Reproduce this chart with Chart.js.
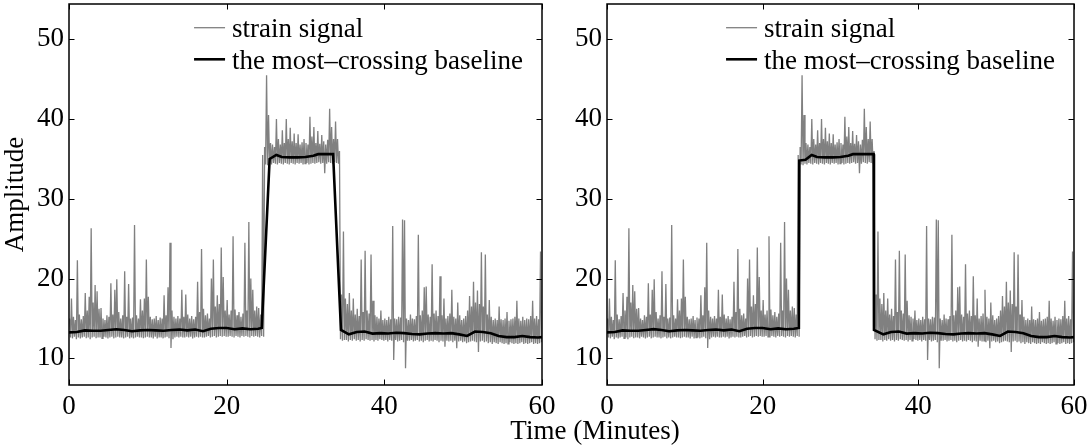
<!DOCTYPE html>
<html>
<head>
<meta charset="utf-8">
<script src="https://cdn.jsdelivr.net/npm/chart.js@4/dist/chart.umd.min.js"></script>
<style>
html,body{margin:0;padding:0;background:#fff;}
body{width:1089px;height:448px;position:relative;overflow:hidden;font-family:"Liberation Serif","Times New Roman",serif;}
canvas{position:absolute;top:0;}
#c1{left:0;}
#c2{left:560px;}
#xtitle{position:absolute;left:495px;width:200px;top:417px;font-size:27px;line-height:27px;text-align:center;color:#000;white-space:nowrap;}
</style>
</head>
<body>
<canvas id="c1" width="560" height="448" style="width:560px;height:448px"></canvas>
<canvas id="c2" width="529" height="448" style="width:529px;height:448px"></canvas>
<div id="xtitle">Time (Minutes)</div>
<script>
// ---- data ----
const xTicks = [0, 20, 40, 60];
const yTicks = [10, 20, 30, 40, 50];
const yRange = [6.65, 54.43];
const binWidth = 0.25; // minutes per min/max bin of the strain signal

// strain signal: maximum per 0.25-minute bin (4 bins per minute, minutes 0..59)
const signalMax = [
  15.0,17.5,15.2,14.8,  22.3,15.5,14.9,15.3,  18.2,16.0,17.7,26.3,  17.0,19.2,18.4,16.2,
  16.3,15.0,14.8,15.4,  15.2,19.4,15.5,18.6,  19.9,15.8,15.0,15.4,  20.9,15.2,19.3,15.0,
  15.1,26.7,15.4,15.0,  17.4,16.0,17.5,22.4,  17.7,15.2,14.9,15.0,  15.3,14.8,15.1,15.0,
  17.9,15.4,18.9,24.5,  16.0,15.2,15.0,15.3,  15.0,18.6,15.2,18.0,  15.5,15.0,15.3,14.9,
  15.2,19.6,15.8,23.7,  16.2,15.4,15.6,15.0,  20.0,22.4,16.5,17.9,  16.8,23.9,20.2,16.0,
  17.3,15.5,16.0,25.3,  16.1,15.4,15.8,15.2,  15.6,24.5,16.0,27.1,  20.0,18.6,16.0,16.5,
  16.3,15.5,35.5,36.5,  45.5,40.5,37.0,36.8,  36.5,40.0,37.5,36.8,  38.6,37.0,40.0,37.5,
  38.9,37.2,38.2,37.0,  38.1,36.8,37.1,37.5,  37.0,36.8,40.3,37.8,  39.0,37.0,38.5,36.9,
  38.0,37.2,36.8,37.4,  41.3,39.0,37.5,39.7,  37.5,36.0,18.0,25.9,  17.5,16.8,18.2,16.0,
  17.5,15.5,16.2,15.3,  22.4,15.8,23.5,16.0,  15.6,23.0,17.2,15.4,  15.2,15.0,16.0,14.8,
  15.0,14.8,15.2,14.9,  26.6,15.0,14.9,15.2,  15.1,27.4,27.3,15.0,  14.8,15.5,15.0,14.9,
  15.3,25.5,15.4,16.0,  18.9,19.0,15.5,15.2,  21.8,15.6,16.0,15.3,  20.3,15.4,17.5,15.0,
  15.3,15.6,18.6,15.2,  15.0,17.0,15.4,14.8,  15.0,15.3,16.0,17.8,  16.5,19.6,17.0,18.5,
  16.8,23.3,16.5,23.0,  15.5,17.3,15.2,14.8,  15.0,14.8,16.5,14.9,  14.8,15.0,15.8,14.7,
  14.9,15.0,15.2,17.2,  15.0,14.7,15.2,14.8,  15.0,14.9,15.3,17.2,  15.0,15.3,14.9,23.4
];
// strain signal: minimum per 0.25-minute bin
const signalMin = [
  12.6,12.5,12.7,12.4,  12.6,12.5,12.6,12.7,  12.5,12.6,12.4,12.6,  12.7,12.5,12.6,12.6,
  12.5,12.7,12.6,12.5,  12.6,12.7,12.5,12.6,  12.7,12.6,12.6,12.5,  12.6,12.7,12.5,12.6,
  12.5,12.6,12.7,12.6,  12.6,12.5,12.6,12.7,  12.6,12.6,12.5,12.7,  12.5,12.6,12.6,12.5,
  12.6,12.7,12.5,11.3,  12.4,12.6,12.7,12.6,  12.7,12.6,12.6,12.7,  12.6,12.7,12.5,12.6,
  12.7,12.6,12.7,12.6,  12.6,12.7,12.8,12.6,  12.7,12.8,12.6,12.7,  12.8,12.7,12.8,12.7,
  12.7,12.8,12.7,12.6,  12.8,12.7,12.6,12.8,  12.7,12.8,12.7,12.6,  12.8,12.7,12.8,12.7,
  12.6,12.8,12.7,34.3,  34.2,34.4,34.3,34.5,  34.4,34.3,34.5,34.4,  34.3,34.5,34.4,34.3,
  34.5,34.4,34.3,34.5,  34.4,34.5,34.3,34.4,  34.5,34.3,34.4,34.5,  34.4,34.5,34.6,34.4,
  34.5,33.2,34.4,34.6,  34.5,34.4,34.6,34.5,  34.4,12.4,12.2,12.3,  12.3,12.1,12.3,12.2,
  12.4,12.2,12.3,12.1,  12.3,12.2,12.4,12.3,  12.2,12.3,12.1,12.3,  12.2,12.4,12.3,12.2,
  12.3,12.1,12.3,12.2,  9.8,12.3,12.1,12.2,   12.3,12.0,8.75,12.2,  12.2,12.3,12.1,12.2,
  12.3,12.1,12.2,12.0,  12.2,12.3,12.1,12.2,  12.1,12.3,12.2,12.0,  12.2,12.1,11.45,12.2,
  12.1,12.2,12.0,12.2,  11.25,12.1,12.2,12.0, 12.1,11.9,12.0,12.1,  12.2,12.1,12.0,10.8,
  12.1,12.2,12.0,12.1,  11.9,12.0,11.8,12.0,  11.9,11.8,12.0,11.9,  11.8,11.9,11.8,12.0,
  11.9,11.8,11.9,11.8,  11.9,12.0,11.8,11.9,  11.8,11.9,12.0,11.8,  11.9,11.8,11.9,12.0
];

// most-crossing baseline, left panel
const baseTimeL = [0,1,2,3,4,5,6,7,8,9,10,11,12,13,14,15,16,17,18,19,20,21,22,23,24,
  24.45,25.45,26.3,27,28,29,30,31,31.6,32.5,33.5,
  34.5,35.5,36.5,37.5,38.5,39.5,40.5,41.5,42.5,43.5,44.5,45.5,46.5,47.5,48.5,49.5,50.5,51.5,52.5,53.5,54.5,55.5,56.5,57.5,58.5,59.5,60];
const baseValL = [13.25,13.3,13.5,13.45,13.45,13.55,13.65,13.55,13.4,13.5,13.55,13.5,13.45,13.55,13.6,13.5,13.6,13.4,13.7,13.8,13.8,13.65,13.75,13.65,13.7,
  13.8,35.0,35.5,35.25,35.2,35.2,35.25,35.4,35.6,35.6,35.6,
  13.55,13.0,13.3,13.35,13.1,13.15,13.1,13.2,13.15,13.05,13.0,13.1,13.15,13.1,13.15,13.0,12.8,13.35,13.3,13.15,12.8,12.65,12.65,12.8,12.65,12.6,12.65];

// most-crossing baseline, right panel
const baseTimeR = [0,1,2,3,4,5,6,7,8,9,10,11,12,13,14,15,16,17,18,19,20,21,22,23,24,
  24.65,24.7,25.5,26.3,27,28,29,30,31,31.6,32.5,34.25,
  34.3,35.5,36.5,37.5,38.5,39.5,40.5,41.5,42.5,43.5,44.5,45.5,46.5,47.5,48.5,49.5,50.5,51.5,52.5,53.5,54.5,55.5,56.5,57.5,58.5,59.5,60];
const baseValR = [13.25,13.3,13.5,13.45,13.45,13.55,13.65,13.55,13.4,13.5,13.55,13.5,13.45,13.55,13.6,13.5,13.6,13.4,13.7,13.8,13.8,13.65,13.75,13.65,13.7,
  13.8,34.8,34.9,35.5,35.25,35.2,35.2,35.25,35.4,35.6,35.6,35.6,
  13.55,13.0,13.3,13.35,13.1,13.15,13.1,13.2,13.15,13.05,13.0,13.1,13.15,13.1,13.15,13.0,12.8,13.35,13.3,13.15,12.8,12.65,12.65,12.8,12.65,12.6,12.65];

const signalLabel = 'strain signal';
const baselineLabel = 'the most\u2013crossing baseline';

// ---- build library data ----
function signalPoints() {
  const pts = [];
  for (let k = 0; k < signalMax.length; k++) {
    const t0 = k * binWidth;
    pts.push({x: t0 + binWidth * 0.25, y: signalMax[k]});
    pts.push({x: t0 + binWidth * 0.75, y: signalMin[k]});
  }
  return pts;
}
function zipPoints(ts, vs) { return ts.map((t, i) => ({x: t, y: vs[i]})); }

const FONT = '"Liberation Serif", "Times New Roman", serif';

const boxPlugin = {
  id: 'matlabBox',
  afterDatasetsDraw(chart) {
    const {ctx, chartArea: a, scales: {x, y}} = chart;
    ctx.save();
    ctx.strokeStyle = '#000';
    ctx.lineWidth = 1;
    const L = 5.5;
    ctx.beginPath();
    x.ticks.forEach(t => {
      const px = Math.round(x.getPixelForValue(t.value)) + 0.5;
      ctx.moveTo(px, a.bottom); ctx.lineTo(px, a.bottom - L);
      ctx.moveTo(px, a.top); ctx.lineTo(px, a.top + L);
    });
    y.ticks.forEach(t => {
      const py = Math.round(y.getPixelForValue(t.value)) + 0.5;
      ctx.moveTo(a.left, py); ctx.lineTo(a.left + L, py);
      ctx.moveTo(a.right, py); ctx.lineTo(a.right - L, py);
    });
    ctx.stroke();
    ctx.lineWidth = 1.5;
    ctx.strokeRect(a.left, a.top, a.right - a.left, a.bottom - a.top);
    ctx.restore();
  }
};

const legendPlugin = {
  id: 'matlabLegend',
  afterDraw(chart) {
    const {ctx, chartArea: a} = chart;
    ctx.save();
    ctx.font = '27px ' + FONT;
    const items = chart.data.datasets;
    const maxW = Math.max(...items.map(d => ctx.measureText(d.label).width));
    const tx = a.right - 19 - maxW;
    items.forEach((d, i) => {
      const ly = a.top + 23.7 + i * 31.6;
      ctx.strokeStyle = d.borderColor;
      ctx.lineWidth = d.borderWidth;
      ctx.beginPath();
      ctx.moveTo(tx - 38, ly); ctx.lineTo(tx - 7, ly);
      ctx.stroke();
      ctx.fillStyle = '#000';
      ctx.textBaseline = 'alphabetic';
      ctx.textAlign = 'left';
      ctx.fillText(d.label, tx, ly + 9.5);
    });
    ctx.restore();
  }
};

function makeChart(id, baseT, baseV, yAxisWidth, rightPad, showYTitle) {
  return new Chart(document.getElementById(id), {
    type: 'line',
    data: {
      datasets: [
        {label: signalLabel, data: signalPoints(), borderColor: '#808080', borderWidth: 1.3,
         pointRadius: 0, tension: 0, fill: false, order: 2},
        {label: baselineLabel, data: zipPoints(baseT, baseV), borderColor: '#000000', borderWidth: 2.6,
         pointRadius: 0, tension: 0, fill: false, order: 1}
      ]
    },
    options: {
      responsive: false,
      animation: false,
      parsing: false,
      layout: {padding: {top: 4, right: rightPad, left: 0, bottom: 0}},
      plugins: {legend: {display: false}, tooltip: {enabled: false}},
      scales: {
        x: {
          type: 'linear', min: 0, max: 60,
          afterBuildTicks: s => { s.ticks = xTicks.map(v => ({value: v})); },
          afterFit: s => { s.height = 63; s.paddingLeft = 0; s.paddingRight = 0; },
          grid: {display: false, drawTicks: false},
          border: {display: false},
          ticks: {autoSkip: false, maxRotation: 0, padding: 6, color: '#000', font: {family: FONT, size: 27}}
        },
        y: {
          type: 'linear', min: yRange[0], max: yRange[1],
          afterBuildTicks: s => { s.ticks = yTicks.map(v => ({value: v})); },
          afterFit: s => { s.width = yAxisWidth; s.paddingTop = 0; s.paddingBottom = 0; },
          grid: {display: false, drawTicks: false},
          border: {display: false},
          ticks: {autoSkip: false, padding: 5, color: '#000', font: {family: FONT, size: 27}},
          title: {display: showYTitle, text: 'Amplitude', color: '#000', padding: {top: 0, bottom: 0},
                  font: {family: FONT, size: 27}}
        }
      }
    },
    plugins: [boxPlugin, legendPlugin]
  });
}

makeChart('c1', baseTimeL, baseValL, 69, 18, true);
makeChart('c2', baseTimeR, baseValR, 47, 15, false);
</script>
</body>
</html>
